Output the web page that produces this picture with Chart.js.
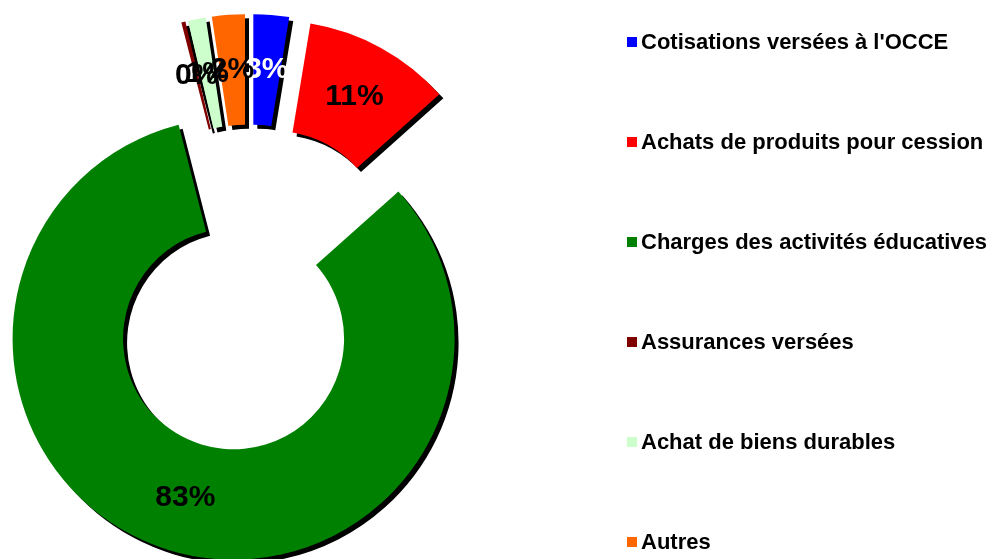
<!DOCTYPE html>
<html>
<head>
<meta charset="utf-8">
<script src="https://cdn.jsdelivr.net/npm/chart.js@4/dist/chart.umd.min.js"></script>
<style>
  html, body { margin: 0; padding: 0; background: #fff; }
  #wrap { width: 990px; height: 559px; position: relative; }
</style>
</head>
<body>
<div id="wrap"><canvas id="donut"></canvas></div>
<script>
// data (percent of total)
const categories = [
  "Cotisations versées à l'OCCE",
  "Achats de produits pour cession",
  "Charges des activités éducatives",
  "Assurances versées",
  "Achat de biens durables",
  "Autres"
];
const shares = [2.6, 10.8, 82.6, 0.3, 1.3, 2.4];

const sliceColors = ["#0000ff", "#ff0000", "#008000", "#800000", "#ccffcc", "#ff6600"];
const labelColors = ["#ffffff", "#000000", "#000000", "#000000", "#000000", "#000000"];

const EXPLODE = 53;
const FONT = "'Liberation Sans', Arial, sans-serif";

// draws every slice pushed out from the centre, with a hard black shadow
const explodePlugin = {
  id: "explode",
  beforeDatasetDraw(chart, args) {
    const ctx = chart.ctx;
    args.meta.data.forEach(arc => {
      const mid = (arc.startAngle + arc.endAngle) / 2;
      ctx.save();
      ctx.shadowColor = "#000";
      ctx.shadowOffsetX = 4;
      ctx.shadowOffsetY = 4;
      ctx.shadowBlur = 0;
      ctx.translate(Math.cos(mid) * EXPLODE, Math.sin(mid) * EXPLODE);
      arc.draw(ctx);
      ctx.restore();
    });
    return false;
  }
};

// percentage labels in the middle of each ring piece
const pctLabels = {
  id: "pctLabels",
  afterDatasetsDraw(chart) {
    const ctx = chart.ctx;
    const vals = chart.data.datasets[0].data;
    const total = vals.reduce((a, b) => a + b, 0);
    ctx.save();
    ctx.font = "bold 30px " + FONT;
    ctx.textAlign = "center";
    ctx.textBaseline = "middle";
    chart.getDatasetMeta(0).data.forEach((arc, i) => {
      const mid = (arc.startAngle + arc.endAngle) / 2;
      const r = EXPLODE + (arc.innerRadius + arc.outerRadius) / 2;
      ctx.fillStyle = labelColors[i];
      ctx.fillText(Math.round(vals[i] / total * 100) + "%",
        arc.x + Math.cos(mid) * r, arc.y + Math.sin(mid) * r);
    });
    ctx.restore();
  }
};

// legend on the right, one item every 100px
const sideLegend = {
  id: "sideLegend",
  afterDraw(chart) {
    const ctx = chart.ctx;
    const colors = chart.data.datasets[0].backgroundColor;
    ctx.save();
    ctx.font = "bold 22px " + FONT;
    ctx.textBaseline = "middle";
    ctx.textAlign = "left";
    chart.data.labels.forEach((lab, i) => {
      const y = 42 + i * 100;
      ctx.fillStyle = colors[i];
      ctx.fillRect(627, y - 5, 10, 10);
      ctx.fillStyle = "#000";
      ctx.fillText(lab, 641, y + 1);
    });
    ctx.restore();
  }
};

new Chart(document.getElementById("donut"), {
  type: "doughnut",
  data: {
    labels: categories,
    datasets: [{
      data: shares,
      backgroundColor: sliceColors,
      borderWidth: 0
    }]
  },
  options: {
    responsive: true,
    maintainAspectRatio: false,
    animation: false,
    radius: 221,
    cutout: "50%",
    layout: { padding: { left: 0, top: 17, right: 492, bottom: 0 } },
    plugins: {
      legend: { display: false },
      tooltip: { enabled: false }
    }
  },
  plugins: [explodePlugin, pctLabels, sideLegend]
});
</script>
</body>
</html>
